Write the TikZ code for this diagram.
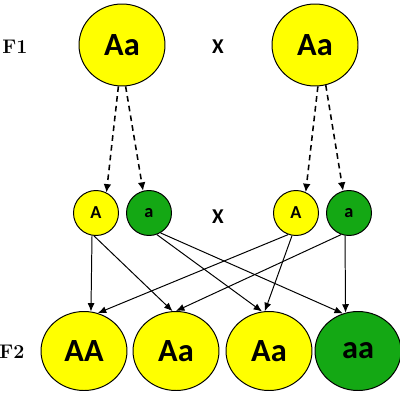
\documentclass[tikz,border=0pt]{standalone}
\usepackage{fontspec}
\usetikzlibrary{shapes.geometric,arrows.meta}
\newfontfamily\cbri{Carlito}
\definecolor{genyel}{RGB}{255,255,0}
\definecolor{gengrn}{RGB}{20,168,20}
\tikzset{
  parent/.style={ellipse,draw,line width=0.7pt,minimum width=86*0.025cm,minimum height=82*0.025cm,font=\cbri\fontsize{23}{25}\selectfont\bfseries},
  gamete/.style={circle,draw,line width=0.7pt,minimum size=45*0.025cm,inner sep=0pt,font=\cbri\fontsize{13}{14}\selectfont\bfseries},
  child/.style={ellipse,draw,line width=0.7pt,minimum width=86*0.025cm,minimum height=79*0.025cm,font=\cbri\fontsize{23}{25}\selectfont\bfseries},
  cross/.style={font=\cbri\fontsize{15}{16}\selectfont\bfseries},
  gen/.style={font=\fontsize{14}{16}\selectfont\bfseries},
  arr/.style={line width=0.7pt,-{Latex[length=6pt,width=5pt]}},
  darr/.style={line width=1.1pt,dash pattern=on 4pt off 3pt,-{Latex[length=6pt,width=5.5pt]}}
}
\begin{document}
\begin{tikzpicture}[x=0.025cm,y=-0.025cm]
\useasboundingbox (0,0) rectangle (400,400);
%\draw[step=50,gray,very thin] (0,0) grid (400,400); %background grid
\node[gen] (f1) at (15,47) {F1};
\node[gen] (f2) at (12,352) {F2};
\node[parent,fill=genyel] (p1) at (122,45) {Aa};
\node[parent,fill=genyel] (p2) at (315,45) {Aa};
\node[cross] (x1) at (218,47) {X};
\node[gamete,fill=genyel] (g1) at (96,213) {A};
\node[gamete,fill=gengrn] (g2) at (149,213) {a};
\node[cross] (x2) at (218,217) {X};
\node[gamete,fill=genyel] (g3) at (296,213) {A};
\node[gamete,fill=gengrn] (g4) at (349,213) {a};
\node[child,fill=genyel] (o1) at (84,351) {AA};
\node[child,fill=genyel] (o2) at (176,351) {Aa};
\node[child,fill=genyel] (o3) at (269,351) {Aa};
\node[child,fill=gengrn] (o4) at (358,351) {aa};
% gametes
\draw[darr] (p1.-95) -- (g1.63);
\draw[darr] (p1.-85) -- (g2.105);
\draw[darr] (p2.-86) -- (g3.65);
\draw[darr] (p2.-75) -- (g4.105);
% offspring
\draw[arr] (g1.-100) -- (o1.80);
\draw[arr] (g1.-95) -- (o2.95);
\draw[arr] (g2.-70) -- (o3.100);
\draw[arr] (g2.-60) -- (o4.112);
\draw[arr] (g3.-110) -- (o1.70);
\draw[arr] (g3.-100) -- (o3.96);
\draw[arr] (g4.-110) -- (o2.90);
\draw[arr] (g4.-100) -- (o4.108);
\end{tikzpicture}
\end{document}
